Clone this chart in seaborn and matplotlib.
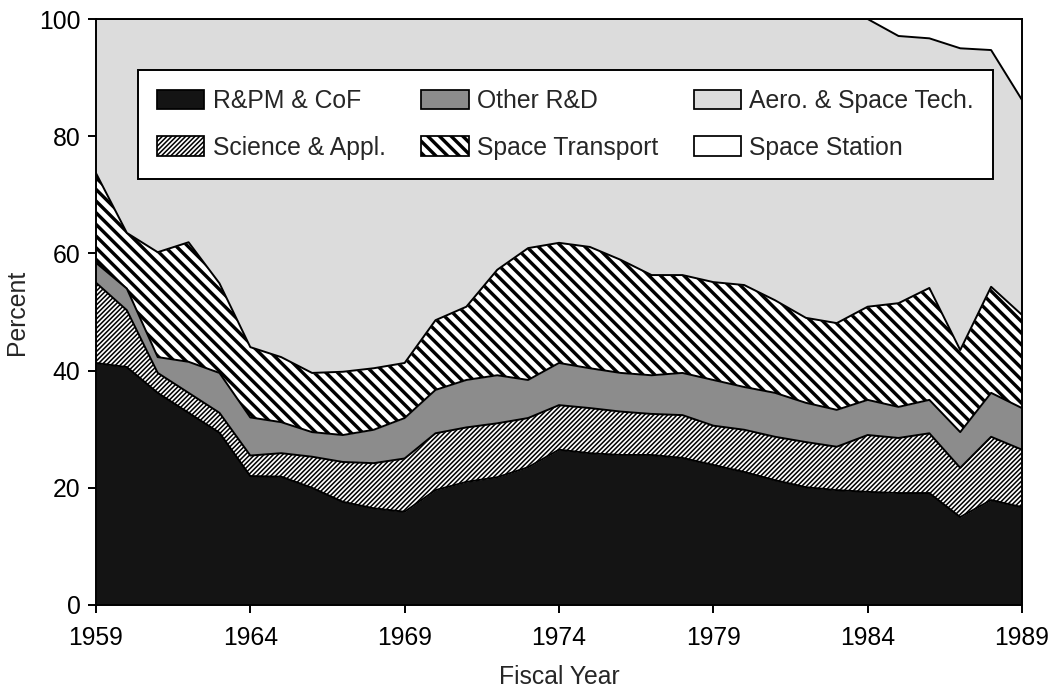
import matplotlib
matplotlib.use("Agg")
import matplotlib.pyplot as plt
from matplotlib.patches import Patch
import pandas as pd
import seaborn as sns

# NASA budget shares by program area, percent of total, fiscal years 1959-1989
years = list(range(1959, 1990))
rpm_cof = [41.3, 40.6, 36.2, 32.8, 29.4, 22.0, 21.9, 20.0, 17.6, 16.5, 15.9,
           19.6, 21.0, 21.8, 23.5, 26.5, 25.9, 25.6, 25.6, 25.1, 23.9, 22.7,
           21.3, 20.1, 19.6, 19.3, 19.1, 19.1, 15.0, 17.9, 16.7]
science_appl = [13.7, 9.7, 3.4, 3.4, 3.4, 3.5, 4.0, 5.3, 6.8, 7.7, 9.1,
                9.7, 9.3, 9.2, 8.4, 7.6, 7.7, 7.4, 7.0, 7.3, 6.7, 7.2,
                7.4, 7.7, 7.4, 9.7, 9.4, 10.2, 8.4, 10.8, 9.8]
other_rd = [3.4, 3.7, 2.7, 5.3, 6.8, 6.5, 5.3, 4.2, 4.6, 5.7, 6.9,
            7.4, 8.1, 8.2, 6.5, 7.2, 6.8, 6.6, 6.6, 7.2, 7.8, 7.3,
            7.5, 6.7, 6.3, 6.0, 5.3, 5.7, 6.1, 7.5, 7.1]
space_transport = [15.3, 9.5, 17.9, 20.4, 15.3, 12.0, 11.1, 10.1, 10.8, 10.5, 9.4,
                   11.9, 12.5, 18.0, 22.5, 20.5, 20.7, 19.3, 17.1, 16.7, 16.7, 17.4,
                   15.8, 14.5, 14.8, 15.9, 17.7, 19.1, 14.0, 18.1, 15.9]
aero_space_tech = [26.3, 36.5, 39.8, 38.1, 45.1, 56.0, 57.7, 60.4, 60.2, 59.6, 58.7,
                   51.4, 49.1, 42.8, 39.1, 38.2, 38.9, 41.1, 43.7, 43.7, 44.9, 45.4,
                   48.0, 51.0, 51.9, 49.1, 45.6, 42.6, 51.5, 40.4, 36.7]
space_station = [0.0] * 26 + [2.9, 3.3, 5.0, 5.3, 13.8]

categories = ["R&PM & CoF", "Science & Appl.", "Other R&D",
              "Space Transport", "Aero. & Space Tech.", "Space Station"]
x_ticks = [1959, 1964, 1969, 1974, 1979, 1984, 1989]
y_ticks = [0, 20, 40, 60, 80, 100]

# fill / hatch styling per program area
styles = {
    "R&PM & CoF": dict(facecolor="#141414", hatch=None, hlw=0.5),
    "Science & Appl.": dict(facecolor="white", hatch="/" * 10, hlw=0.8),
    "Other R&D": dict(facecolor="#8c8c8c", hatch=None, hlw=0.5),
    "Space Transport": dict(facecolor="white", hatch="\\" * 4, hlw=1.75),
    "Aero. & Space Tech.": dict(facecolor="#dcdcdc", hatch=None, hlw=0.5),
    "Space Station": dict(facecolor="white", hatch=None, hlw=0.5),
}

sns.set_theme(style="ticks")
plt.rcParams["font.family"] = ["Liberation Sans", "DejaVu Sans"]
plt.rcParams["font.size"] = 12.5

shares = pd.DataFrame(
    dict(zip(categories, [rpm_cof, science_appl, other_rd, space_transport,
                          aero_space_tech, space_station])),
    index=pd.Index(years, name="year"),
)
tops = shares.cumsum(axis=1)
bottoms = tops - shares

fig, ax = plt.subplots(figsize=(1064 / 140, 691 / 140), dpi=140)
fig.subplots_adjust(left=0.0902, right=0.9605, bottom=0.1245, top=0.9725)


def set_hatch_lw(artist, lw):
    if hasattr(artist, "set_hatch_linewidth"):
        artist.set_hatch_linewidth(lw)


for cat in categories:
    st = styles[cat]
    with plt.rc_context({"hatch.linewidth": st["hlw"]}):
        coll = ax.fill_between(
            shares.index, bottoms[cat], tops[cat],
            facecolor=st["facecolor"], edgecolor="black",
            hatch=st["hatch"], linewidth=0, zorder=1,
        )
        set_hatch_lw(coll, st["hlw"])

# black outlines along every stacked boundary
outline = (tops[categories[:-1]].reset_index()
           .melt(id_vars="year", var_name="boundary", value_name="percent"))
sns.lineplot(data=outline, x="year", y="percent", units="boundary",
             estimator=None, color="black", linewidth=1.0, legend=False,
             ax=ax, zorder=2)

ax.set_xlim(1959, 1989)
ax.set_ylim(0, 100)
ax.set_xticks(x_ticks)
ax.set_yticks(y_ticks)
ax.set_xlabel("Fiscal Year", fontsize=12.75, labelpad=7.5)
ax.set_ylabel("Percent", fontsize=12.75, labelpad=5)
ax.tick_params(axis="both", direction="out", length=4, width=1.0,
               labelsize=12.75, colors="black")
ax.tick_params(axis="x", pad=7)
ax.tick_params(axis="y", pad=4)
for side in ["left", "right", "top", "bottom"]:
    ax.spines[side].set_visible(True)
    ax.spines[side].set_color("black")
    ax.spines[side].set_linewidth(1.0)
    ax.spines[side].set_zorder(5)

handles = []
for cat in categories:
    st = styles[cat]
    with plt.rc_context({"hatch.linewidth": st["hlw"]}):
        p = Patch(facecolor=st["facecolor"], edgecolor="black",
                  hatch=st["hatch"], linewidth=0.9, label=cat)
        set_hatch_lw(p, st["hlw"])
    handles.append(p)

leg = ax.legend(handles=handles, ncol=3, loc="upper left",
                bbox_to_anchor=(0.0454, 0.913), frameon=True, fancybox=False,
                fontsize=12.75, handlelength=1.9, handleheight=0.82,
                handletextpad=0.33, columnspacing=1.45, labelspacing=0.9,
                borderpad=0.78, borderaxespad=0.0)
leg.set_zorder(6)
frame = leg.get_frame()
frame.set_edgecolor("black")
frame.set_linewidth(1.0)
frame.set_facecolor("white")
frame.set_alpha(1.0)
for cat, p in zip(categories, leg.get_patches()):
    set_hatch_lw(p, styles[cat]["hlw"])

fig.savefig("out.png", dpi=140)
